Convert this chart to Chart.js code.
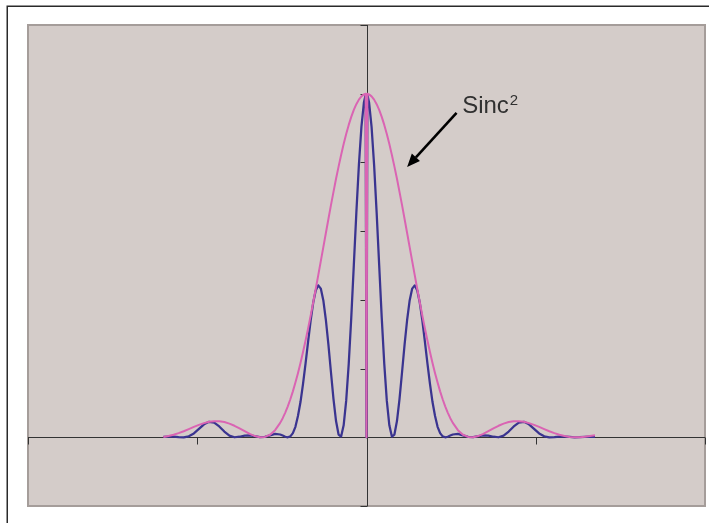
<!DOCTYPE html>
<html>
<head>
<meta charset="utf-8">
<script src="https://cdn.jsdelivr.net/npm/chart.js@4/dist/chart.umd.min.js"></script>
<style>
  html, body { margin: 0; padding: 0; background: #ffffff; }
  canvas { display: block; }
</style>
</head>
<body>
<canvas id="c" width="709" height="523"></canvas>
<script>
// ---- data ----
const xValues = [
  -1.20, -1.17, -1.14, -1.11, -1.08, -1.05, -1.02, -0.99, -0.96, -0.93,
  -0.90, -0.87, -0.84, -0.81, -0.78, -0.75, -0.72, -0.69, -0.66, -0.63,
  -0.60, -0.57, -0.54, -0.51,
  -0.495, -0.48, -0.465, -0.45, -0.435, -0.42, -0.405, -0.39, -0.375, -0.36,
  -0.345, -0.33, -0.315, -0.30, -0.285, -0.27, -0.255, -0.24, -0.225, -0.21,
  -0.195, -0.18, -0.165, -0.15, -0.135, -0.12, -0.105, -0.09, -0.075, -0.06,
  -0.045, -0.03, -0.015,
  -0.005, 0, 0.005,
  0.015, 0.03, 0.045, 0.06, 0.075, 0.09, 0.105, 0.12, 0.135, 0.15,
  0.165, 0.18, 0.195, 0.21, 0.225, 0.24, 0.255, 0.27, 0.285, 0.30,
  0.315, 0.33, 0.345, 0.36, 0.375, 0.39, 0.405, 0.42, 0.435, 0.45,
  0.465, 0.48, 0.495,
  0.51, 0.54, 0.57, 0.60, 0.63, 0.66, 0.69, 0.72, 0.75, 0.78,
  0.81, 0.84, 0.87, 0.90, 0.93, 0.96, 0.99, 1.02, 1.05, 1.08,
  1.11, 1.14, 1.17, 1.20, 1.23, 1.26, 1.29, 1.32, 1.35
];
const sinc2Values = [
  0.0011, 0.0035, 0.0073, 0.0121, 0.0177, 0.0239, 0.0303, 0.0362, 0.0413, 0.0450,
  0.0470, 0.0469, 0.0443, 0.0398, 0.0335, 0.0259, 0.0177, 0.0099, 0.0036, 0.0003,
  0.0011, 0.0075, 0.0208, 0.0420,
  0.0556, 0.0720, 0.0901, 0.1108, 0.1337, 0.1592, 0.1866, 0.2163, 0.2480, 0.2816,
  0.3169, 0.3540, 0.3923, 0.4317, 0.4719, 0.5126, 0.5535, 0.5946, 0.6353, 0.6757,
  0.7142, 0.7524, 0.7877, 0.8218, 0.8534, 0.8827, 0.9092, 0.9326, 0.9528, 0.9695,
  0.9828, 0.9923, 0.9981,
  1.0, 0, 1.0,
  0.9981, 0.9923, 0.9828, 0.9695, 0.9528, 0.9326, 0.9092, 0.8827, 0.8534, 0.8218,
  0.7877, 0.7524, 0.7142, 0.6757, 0.6353, 0.5946, 0.5535, 0.5126, 0.4719, 0.4317,
  0.3923, 0.3540, 0.3169, 0.2816, 0.2480, 0.2163, 0.1866, 0.1592, 0.1337, 0.1108,
  0.0901, 0.0720, 0.0556,
  0.0420, 0.0208, 0.0075, 0.0011, 0.0003, 0.0036, 0.0099, 0.0177, 0.0259, 0.0335,
  0.0398, 0.0443, 0.0469, 0.0470, 0.0450, 0.0413, 0.0362, 0.0303, 0.0239, 0.0177,
  0.0121, 0.0073, 0.0035, 0.0011, 0.0001, 0.0003, 0.0015, 0.0035, 0.0060
];
const patternValues = [
  0.0009, 0.0020, 0.0021, 0.0008, 0.0000, 0.0029, 0.0113, 0.0243, 0.0376, 0.0450,
  0.0428, 0.0316, 0.0166, 0.0048, 0.0001, 0.0016, 0.0050, 0.0057, 0.0031, 0.0002,
  0.0011, 0.0057, 0.0099, 0.0081,
  0.0050, 0.0016, 0.0000, 0.0025, 0.0122, 0.0305, 0.0618, 0.1026, 0.1554, 0.2149,
  0.2787, 0.3393, 0.3913, 0.4273, 0.4423, 0.4328, 0.3983, 0.3414, 0.2696, 0.1893,
  0.1109, 0.0473, 0.0081, 0.0021, 0.0347, 0.1065, 0.2137, 0.3482, 0.5005, 0.6531,
  0.7922, 0.9034, 0.9752,
  0.997, 0, 0.997,
  0.9752, 0.9034, 0.7922, 0.6531, 0.5005, 0.3482, 0.2137, 0.1065, 0.0347, 0.0021,
  0.0081, 0.0473, 0.1109, 0.1893, 0.2696, 0.3414, 0.3983, 0.4328, 0.4423, 0.4273,
  0.3913, 0.3393, 0.2787, 0.2149, 0.1554, 0.1026, 0.0618, 0.0305, 0.0122, 0.0025,
  0.0000, 0.0016, 0.0050,
  0.0081, 0.0099, 0.0057, 0.0011, 0.0002, 0.0031, 0.0057, 0.0050, 0.0016, 0.0001,
  0.0048, 0.0166, 0.0316, 0.0428, 0.0450, 0.0376, 0.0243, 0.0113, 0.0029, 0.0000,
  0.0008, 0.0021, 0.0020, 0.0009, 0.0000, 0.0002, 0.0011, 0.0016, 0.0012
];
const xTicks = [-2, -1, 0, 1, 2];
const yTicks = [-0.2, 0, 0.2, 0.4, 0.6, 0.8, 1.0, 1.2];
const annotationText = 'Sinc';
const annotationSup = '2';

// ---- styling / drawing ----
const PLOT_BG = '#d4ccc9';
const PLOT_BORDER = '#a59d9a';
const AXIS_COLOR = '#333333';

const framePlugin = {
  id: 'framePlugin',
  beforeDraw(chart) {
    const ctx = chart.ctx, a = chart.chartArea;
    ctx.save();
    ctx.fillStyle = '#ffffff';
    ctx.fillRect(0, 0, chart.width, chart.height);
    ctx.strokeStyle = '#2a2a2a';
    ctx.lineWidth = 1.5;
    ctx.strokeRect(7.25, 6.25, 900, 900);
    ctx.fillStyle = PLOT_BG;
    ctx.fillRect(a.left, a.top, a.right - a.left, a.bottom - a.top);
    ctx.strokeStyle = PLOT_BORDER;
    ctx.lineWidth = 2;
    ctx.strokeRect(a.left, a.top, a.right - a.left, a.bottom - a.top);
    ctx.restore();
  },
  beforeDatasetsDraw(chart) {
    const ctx = chart.ctx, a = chart.chartArea;
    const xs = chart.scales.x, ys = chart.scales.y;
    const x0 = Math.round(xs.getPixelForValue(0)) + 0.5;
    const y0 = Math.round(ys.getPixelForValue(0)) + 0.5;
    ctx.save();
    ctx.strokeStyle = AXIS_COLOR;
    ctx.lineWidth = 1;
    ctx.beginPath();
    ctx.moveTo(a.left, y0); ctx.lineTo(a.right, y0);
    ctx.moveTo(x0, a.top); ctx.lineTo(x0, a.bottom);
    xTicks.forEach(t => {
      const px = Math.round(xs.getPixelForValue(t)) + 0.5;
      ctx.moveTo(px, y0); ctx.lineTo(px, y0 + 7);
    });
    yTicks.forEach(t => {
      const py = Math.round(ys.getPixelForValue(t)) + 0.5;
      ctx.moveTo(x0, py); ctx.lineTo(x0 - 7, py);
    });
    ctx.stroke();
    ctx.restore();
  },
  afterDatasetsDraw(chart) {
    const ctx = chart.ctx;
    const xs = chart.scales.x, ys = chart.scales.y;
    ctx.save();
    const tx = xs.getPixelForValue(0.565), ty = ys.getPixelForValue(0.945);
    ctx.fillStyle = '#303030';
    ctx.textBaseline = 'alphabetic';
    ctx.font = "24px 'Liberation Sans', Arial, sans-serif";
    ctx.fillText(annotationText, tx, ty);
    const w = ctx.measureText(annotationText).width;
    ctx.font = "15px 'Liberation Sans', Arial, sans-serif";
    ctx.fillText(annotationSup, tx + w + 1, ty - 8);
    const sx = xs.getPixelForValue(0.532), sy = ys.getPixelForValue(0.944);
    const ex = xs.getPixelForValue(0.240), ey = ys.getPixelForValue(0.787);
    const ang = Math.atan2(ey - sy, ex - sx);
    const hl = 13, hw = 5.5;
    const bx = ex - hl * Math.cos(ang), by = ey - hl * Math.sin(ang);
    ctx.strokeStyle = '#000000';
    ctx.fillStyle = '#000000';
    ctx.lineWidth = 2.6;
    ctx.beginPath();
    ctx.moveTo(sx, sy); ctx.lineTo(bx, by);
    ctx.stroke();
    ctx.beginPath();
    ctx.moveTo(ex, ey);
    ctx.lineTo(bx + hw * Math.sin(ang), by - hw * Math.cos(ang));
    ctx.lineTo(bx - hw * Math.sin(ang), by + hw * Math.cos(ang));
    ctx.closePath();
    ctx.fill();
    ctx.restore();
  }
};

const toPoints = vals => xValues.map((x, i) => ({ x: x, y: vals[i] }));

new Chart(document.getElementById('c'), {
  type: 'scatter',
  data: {
    datasets: [
      {
        label: 'Sinc2',
        data: toPoints(sinc2Values),
        showLine: true,
        borderColor: '#da64b3',
        borderWidth: 2,
        borderJoinStyle: 'round',
        pointRadius: 0,
        tension: 0
      },
      {
        label: 'Pattern',
        data: toPoints(patternValues),
        showLine: true,
        borderColor: '#3a3490',
        borderWidth: 2.25,
        borderJoinStyle: 'round',
        pointRadius: 0,
        tension: 0
      }
    ]
  },
  options: {
    responsive: false,
    animation: false,
    devicePixelRatio: 1,
    layout: { padding: { left: 28, right: 4, top: 25, bottom: 17 } },
    plugins: { legend: { display: false }, tooltip: { enabled: false } },
    scales: {
      x: { type: 'linear', min: -2, max: 2, display: false },
      y: { type: 'linear', min: -0.2, max: 1.2, display: false }
    }
  },
  plugins: [framePlugin]
});
</script>
</body>
</html>
